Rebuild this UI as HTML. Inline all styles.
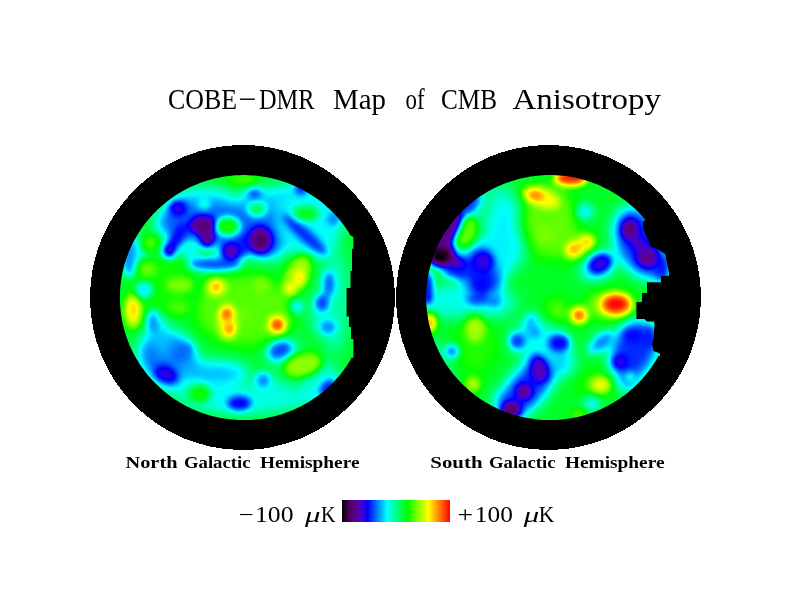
<!DOCTYPE html>
<html lang="en">
<head>
<meta charset="utf-8">
<title>COBE-DMR Map of CMB Anisotropy</title>
<style>
html,body{margin:0;padding:0;background:#fff;}
body{width:792px;height:612px;overflow:hidden;position:relative;font-family:"Liberation Serif",serif;}
svg{position:absolute;left:0;top:0;display:block;}
text{font-family:"Liberation Serif",serif;fill:#000;}
.t{font-size:29.5px;}
.l{font-size:16px;font-weight:bold;}
.c{font-size:22.5px;}
</style>
</head>
<body>
<svg width="792" height="612" viewBox="0 0 792 612">
<defs>
<filter id="b1" x="0" y="0" width="792" height="612" filterUnits="userSpaceOnUse" color-interpolation-filters="sRGB"><feGaussianBlur stdDeviation="7"/></filter>
<filter id="b2" x="0" y="0" width="792" height="612" filterUnits="userSpaceOnUse" color-interpolation-filters="sRGB"><feGaussianBlur stdDeviation="3.6"/></filter>
<filter id="heat" x="0" y="0" width="792" height="612" filterUnits="userSpaceOnUse" color-interpolation-filters="sRGB">
<feComponentTransfer>
<feFuncR type="table" tableValues="0.000 0.095 0.187 0.257 0.313 0.337 0.361 0.341 0.321 0.267 0.196 0.098 0.000 0.000 0.000 0.000 0.000 0.000 0.000 0.000 0.000 0.000 0.000 0.000 0.000 0.000 0.000 0.000 0.000 0.000 0.000 0.056 0.167 0.279 0.390 0.502 0.602 0.701 0.801 0.900 1.000 1.000 1.000 1.000 1.000 1.000 1.000 1.000 1.000 1.000 1.000"/>
<feFuncG type="table" tableValues="0.000 0.000 0.000 0.000 0.000 0.000 0.000 0.000 0.000 0.000 0.000 0.000 0.000 0.113 0.227 0.340 0.453 0.566 0.679 0.792 0.904 1.000 1.000 1.000 1.000 1.000 1.000 1.000 1.000 1.000 1.000 1.000 1.000 1.000 1.000 1.000 1.000 1.000 1.000 1.000 1.000 0.900 0.801 0.701 0.602 0.502 0.402 0.301 0.201 0.100 0.000"/>
<feFuncB type="table" tableValues="0.000 0.106 0.212 0.318 0.413 0.481 0.549 0.632 0.716 0.807 0.902 0.951 1.000 1.000 1.000 1.000 1.000 1.000 1.000 1.000 1.000 0.984 0.877 0.770 0.663 0.556 0.452 0.351 0.251 0.151 0.050 0.000 0.000 0.000 0.000 0.000 0.000 0.000 0.000 0.000 0.000 0.000 0.000 0.000 0.000 0.000 0.000 0.000 0.000 0.000 0.000"/>
<feFuncA type="linear" slope="0" intercept="1"/>
</feComponentTransfer>
</filter>
<linearGradient id="bar" x1="0" y1="0" x2="1" y2="0"><stop offset="0.0%" stop-color="rgb(0,0,0)"/><stop offset="3.7%" stop-color="rgb(45,0,50)"/><stop offset="7.4%" stop-color="rgb(78,0,100)"/><stop offset="12.0%" stop-color="rgb(92,0,140)"/><stop offset="16.7%" stop-color="rgb(80,0,190)"/><stop offset="20.0%" stop-color="rgb(50,0,230)"/><stop offset="24.0%" stop-color="rgb(0,0,255)"/><stop offset="33.0%" stop-color="rgb(0,130,255)"/><stop offset="41.7%" stop-color="rgb(0,255,255)"/><stop offset="51.0%" stop-color="rgb(0,255,128)"/><stop offset="61.0%" stop-color="rgb(0,255,0)"/><stop offset="70.0%" stop-color="rgb(128,255,0)"/><stop offset="80.0%" stop-color="rgb(255,255,0)"/><stop offset="90.0%" stop-color="rgb(255,128,0)"/><stop offset="100.0%" stop-color="rgb(255,0,0)"/></linearGradient>
<clipPath id="clipN"><path d="M351.7 357.7 L350.1 360.5 L348.4 363.2 L346.6 365.9 L344.8 368.6 L342.9 371.2 L340.9 373.7 L338.9 376.2 L336.7 378.6 L334.6 381.0 L332.3 383.3 L330.0 385.6 L327.7 387.8 L325.2 389.9 L322.8 392.0 L320.3 394.0 L317.7 395.9 L315.0 397.8 L312.4 399.6 L309.6 401.4 L306.9 403.0 L304.1 404.6 L301.2 406.2 L298.3 407.6 L295.4 409.0 L292.4 410.3 L289.4 411.5 L286.4 412.6 L283.3 413.7 L280.2 414.7 L277.1 415.6 L274.0 416.4 L270.8 417.1 L267.7 417.8 L264.5 418.4 L261.3 418.9 L258.0 419.3 L254.8 419.6 L251.6 419.9 L248.3 420.0 L245.1 420.1 L241.9 420.1 L238.6 420.0 L235.4 419.8 L232.1 419.6 L228.9 419.2 L225.7 418.8 L222.5 418.3 L219.3 417.7 L216.1 417.0 L213.0 416.3 L209.9 415.4 L206.7 414.5 L203.7 413.5 L200.6 412.4 L197.6 411.3 L194.6 410.0 L191.6 408.7 L188.7 407.3 L185.8 405.9 L183.0 404.3 L180.2 402.7 L177.4 401.0 L174.7 399.3 L172.0 397.5 L169.4 395.6 L166.8 393.6 L164.3 391.6 L161.9 389.5 L159.5 387.3 L157.1 385.1 L154.8 382.8 L152.6 380.5 L150.4 378.1 L148.3 375.7 L146.3 373.2 L144.3 370.6 L142.4 368.0 L140.6 365.4 L138.8 362.7 L137.2 360.0 L135.5 357.2 L134.0 354.4 L132.5 351.5 L131.1 348.6 L129.8 345.7 L128.6 342.7 L127.4 339.7 L126.4 336.7 L125.4 333.6 L124.5 330.5 L123.6 327.4 L122.9 324.3 L122.2 321.2 L121.6 318.0 L121.1 314.9 L120.7 311.7 L120.4 308.5 L120.1 305.3 L120.0 302.1 L119.9 298.9 L119.9 295.7 L120.0 292.5 L120.2 289.3 L120.4 286.1 L120.8 282.9 L121.2 279.7 L121.7 276.5 L122.3 273.4 L123.0 270.3 L123.8 267.1 L124.6 264.0 L125.6 261.0 L126.6 257.9 L127.7 254.9 L128.8 251.9 L130.1 248.9 L131.4 246.0 L132.8 243.1 L134.3 240.3 L135.9 237.5 L137.5 234.7 L139.2 232.0 L141.0 229.3 L142.8 226.6 L144.7 224.0 L146.7 221.5 L148.7 219.0 L150.9 216.6 L153.0 214.2 L155.3 211.9 L157.6 209.6 L159.9 207.4 L162.4 205.3 L164.8 203.2 L167.3 201.2 L169.9 199.3 L172.6 197.4 L175.2 195.6 L178.0 193.8 L180.7 192.2 L183.5 190.6 L186.4 189.0 L189.3 187.6 L192.2 186.2 L195.2 184.9 L198.2 183.7 L201.2 182.6 L204.3 181.5 L207.4 180.5 L210.5 179.6 L213.6 178.8 L216.8 178.1 L219.9 177.4 L223.1 176.8 L226.3 176.3 L229.6 175.9 L232.8 175.6 L236.0 175.3 L239.3 175.2 L242.5 175.1 L245.7 175.1 L249.0 175.2 L252.2 175.4 L255.5 175.6 L258.7 176.0 L261.9 176.4 L265.1 176.9 L268.3 177.5 L271.5 178.2 L274.6 178.9 L277.7 179.8 L280.9 180.7 L283.9 181.7 L287.0 182.8 L290.0 183.9 L293.0 185.2 L296.0 186.5 L298.9 187.9 L301.8 189.3 L304.6 190.9 L307.4 192.5 L310.2 194.2 L312.9 195.9 L315.6 197.7 L318.2 199.6 L320.8 201.6 L323.3 203.6 L325.7 205.7 L328.1 207.9 L330.5 210.1 L332.8 212.4 L335.0 214.7 L337.2 217.1 L339.3 219.5 L341.3 222.0 L343.3 224.6 L345.2 227.2 L347.0 229.8 L348.8 232.5 L350.4 235.2 L353.4 237.0 L353.4 248.7 L352.0 248.7 L352.0 271.0 L350.5 271.0 L350.5 288.0 L346.6 288.0 L346.6 316.6 L349.0 316.6 L349.0 327.0 L351.0 327.0 L351.0 339.0 L353.4 339.0 L353.4 358.0 Z"/></clipPath>
<clipPath id="clipS"><path d="M658.5 355.9 L656.9 358.7 L655.3 361.4 L653.6 364.1 L651.8 366.8 L649.9 369.4 L648.0 372.0 L646.0 374.5 L643.9 377.0 L641.8 379.4 L639.6 381.8 L637.4 384.1 L635.0 386.3 L632.7 388.5 L630.2 390.6 L627.8 392.7 L625.2 394.7 L622.6 396.6 L620.0 398.4 L617.3 400.2 L614.6 401.9 L611.8 403.6 L609.0 405.2 L606.1 406.7 L603.2 408.1 L600.3 409.4 L597.3 410.7 L594.3 411.9 L591.3 413.0 L588.2 414.0 L585.1 415.0 L582.0 415.9 L578.9 416.7 L575.7 417.4 L572.5 418.0 L569.3 418.6 L566.1 419.0 L562.9 419.4 L559.7 419.7 L556.5 419.9 L553.3 420.1 L550.0 420.1 L546.8 420.1 L543.5 419.9 L540.3 419.7 L537.1 419.5 L533.9 419.1 L530.7 418.6 L527.5 418.1 L524.3 417.5 L521.2 416.8 L518.0 416.0 L514.9 415.1 L511.8 414.2 L508.7 413.1 L505.7 412.0 L502.7 410.9 L499.7 409.6 L496.8 408.3 L493.9 406.8 L491.0 405.4 L488.2 403.8 L485.4 402.2 L482.7 400.5 L480.0 398.7 L477.3 396.8 L474.7 394.9 L472.2 392.9 L469.7 390.9 L467.3 388.8 L464.9 386.6 L462.6 384.4 L460.3 382.1 L458.1 379.7 L456.0 377.3 L453.9 374.9 L451.9 372.3 L449.9 369.8 L448.1 367.2 L446.3 364.5 L444.5 361.8 L442.9 359.0 L441.3 356.2 L439.8 353.4 L438.3 350.5 L437.0 347.6 L435.7 344.7 L434.5 341.7 L433.4 338.7 L432.3 335.7 L431.4 332.6 L430.5 329.5 L429.7 326.4 L428.9 323.3 L428.3 320.1 L427.8 317.0 L427.3 313.8 L426.9 310.6 L426.6 307.4 L426.4 304.2 L426.2 301.0 L426.2 297.8 L426.2 294.6 L426.4 291.4 L426.6 288.2 L426.9 285.0 L427.2 281.8 L427.7 278.6 L428.2 275.5 L428.9 272.3 L429.6 269.2 L430.4 266.1 L431.2 263.0 L432.2 259.9 L433.2 256.9 L434.3 253.9 L435.5 250.9 L436.8 248.0 L438.1 245.1 L439.6 242.2 L441.1 239.3 L442.7 236.5 L444.3 233.8 L446.0 231.1 L447.8 228.4 L449.7 225.8 L451.6 223.2 L453.6 220.7 L455.7 218.2 L457.8 215.8 L460.0 213.4 L462.2 211.1 L464.6 208.9 L466.9 206.7 L469.4 204.6 L471.8 202.5 L474.4 200.5 L477.0 198.6 L479.6 196.8 L482.3 195.0 L485.0 193.3 L487.8 191.6 L490.6 190.0 L493.5 188.5 L496.4 187.1 L499.3 185.8 L502.3 184.5 L505.3 183.3 L508.3 182.2 L511.4 181.2 L514.5 180.2 L517.6 179.3 L520.7 178.5 L523.9 177.8 L527.1 177.2 L530.3 176.6 L533.5 176.2 L536.7 175.8 L539.9 175.5 L543.1 175.3 L546.3 175.1 L549.6 175.1 L552.8 175.1 L556.1 175.3 L559.3 175.5 L562.5 175.7 L565.7 176.1 L568.9 176.6 L572.1 177.1 L575.3 177.7 L578.4 178.4 L581.6 179.2 L584.7 180.1 L587.8 181.0 L590.9 182.1 L593.9 183.2 L596.9 184.3 L599.9 185.6 L602.8 186.9 L605.7 188.4 L608.6 189.8 L611.4 191.4 L614.2 193.0 L616.9 194.7 L619.6 196.5 L622.3 198.4 L624.9 200.3 L627.4 202.3 L629.9 204.3 L632.3 206.4 L634.7 208.6 L637.0 210.8 L639.3 213.1 L641.5 215.5 L643.6 217.9 L645.4 219.5 L643.0 222.0 L643.0 228.0 L644.5 232.5 L651.0 246.5 L659.0 250.0 L665.0 254.0 L669.0 272.0 L669.0 275.7 L661.0 275.7 L661.0 282.3 L647.0 282.3 L647.0 293.0 L642.0 293.0 L642.0 302.0 L636.4 302.0 L636.4 319.0 L644.5 319.0 L647.0 321.5 L654.4 321.5 L654.4 325.6 L653.5 338.7 L652.0 343.6 L653.5 351.0 L660.0 353.5 L660.0 356.0 Z"/></clipPath>
</defs>
<rect x="0" y="0" width="792" height="612" fill="#fff"/>
<circle cx="242.5" cy="297.5" r="152.5" fill="#000" shape-rendering="crispEdges"/>
<circle cx="548.5" cy="297.5" r="152.5" fill="#000" shape-rendering="crispEdges"/>
<g clip-path="url(#clipN)"><g filter="url(#heat)">
<rect x="100" y="150" width="290" height="295" fill="#949494"/>
<g filter="url(#b1)">
<ellipse cx="205" cy="222" rx="50" ry="24" fill="#4f4f4f"/>
<ellipse cx="235" cy="245" rx="20" ry="14" fill="#4f4f4f"/>
<ellipse cx="268" cy="228" rx="24" ry="32" fill="#4f4f4f"/>
<ellipse cx="265" cy="200" rx="30" ry="12" fill="#616161"/>
<ellipse cx="203" cy="195" rx="30" ry="8" fill="#666666"/>
<ellipse cx="287" cy="192" rx="14" ry="8" fill="#616161"/>
<ellipse cx="310" cy="222" rx="34" ry="36" fill="#6b6b6b"/>
<ellipse cx="168" cy="358" rx="32" ry="27" fill="#4f4f4f" transform="rotate(35 168 358)"/>
<ellipse cx="172" cy="389" rx="15" ry="6" fill="#666666" transform="rotate(30 172 389)"/>
<ellipse cx="160" cy="335" rx="10" ry="25" fill="#616161" transform="rotate(-15 160 335)"/>
<ellipse cx="210" cy="373" rx="40" ry="13" fill="#5e5e5e"/>
<ellipse cx="245" cy="400" rx="62" ry="14" fill="#6b6b6b"/>
<ellipse cx="270" cy="392" rx="25" ry="14" fill="#707070"/>
<ellipse cx="283" cy="352" rx="18" ry="12" fill="#6b6b6b" transform="rotate(-20 283 352)"/>
<ellipse cx="325" cy="315" rx="14" ry="22" fill="#6b6b6b"/>
<ellipse cx="132" cy="250" rx="8" ry="16" fill="#5c5c5c"/>
<ellipse cx="142" cy="292" rx="10" ry="7" fill="#666666"/>
<ellipse cx="322" cy="385" rx="22" ry="24" fill="#737373"/>
<ellipse cx="308" cy="396" rx="12" ry="10" fill="#6b6b6b"/>
<ellipse cx="335" cy="300" rx="16" ry="55" fill="#7a7a7a"/>
<ellipse cx="137" cy="255" rx="12" ry="18" fill="#6b6b6b"/>
<ellipse cx="160" cy="285" rx="30" ry="30" fill="#9e9e9e"/>
<ellipse cx="245" cy="310" rx="50" ry="36" fill="#ababab"/>
<ellipse cx="239" cy="178" rx="26" ry="6" fill="#9e9e9e"/>
</g>
<g filter="url(#b2)">
<ellipse cx="227.6" cy="226.3" rx="12" ry="9" fill="#a1a1a1"/>
<ellipse cx="306" cy="213.5" rx="13" ry="7" fill="#999999"/>
<ellipse cx="243" cy="180" rx="14" ry="5" fill="#a8a8a8"/>
<ellipse cx="257" cy="209" rx="9" ry="7" fill="#8c8c8c"/>
<ellipse cx="150" cy="243" rx="9" ry="9" fill="#a8a8a8"/>
<ellipse cx="147" cy="269" rx="9" ry="9" fill="#adadad"/>
<ellipse cx="180" cy="285" rx="14" ry="8" fill="#b2b2b2"/>
<ellipse cx="216" cy="287" rx="11" ry="10" fill="#c2c2c2"/>
<ellipse cx="216" cy="287" rx="4.5" ry="4.5" fill="#ebebeb"/>
<ellipse cx="133" cy="311" rx="10" ry="19" fill="#b8b8b8"/>
<ellipse cx="133" cy="310" rx="6" ry="12" fill="#d6d6d6"/>
<ellipse cx="227.6" cy="321.5" rx="10" ry="18" fill="#c7c7c7"/>
<ellipse cx="226.5" cy="314" rx="6" ry="6" fill="#f2f2f2"/>
<ellipse cx="229.7" cy="329" rx="5" ry="5.5" fill="#ebebeb"/>
<ellipse cx="277.2" cy="324.7" rx="10" ry="10" fill="#cccccc"/>
<ellipse cx="277.2" cy="324.7" rx="5.5" ry="5.5" fill="#ffffff"/>
<ellipse cx="297" cy="275" rx="12" ry="22" fill="#b8b8b8" transform="rotate(25 297 275)"/>
<ellipse cx="299.5" cy="278" rx="5" ry="8" fill="#d6d6d6"/>
<ellipse cx="289" cy="289" rx="5" ry="6" fill="#d6d6d6"/>
<ellipse cx="261" cy="285" rx="8" ry="8" fill="#b2b2b2"/>
<ellipse cx="303" cy="365" rx="20" ry="12" fill="#b5b5b5" transform="rotate(-15 303 365)"/>
<ellipse cx="200" cy="394" rx="11" ry="9" fill="#9e9e9e"/>
<ellipse cx="178.7" cy="307.7" rx="12" ry="8" fill="#a8a8a8"/>
<ellipse cx="244" cy="316" rx="9" ry="9" fill="#adadad"/>
<ellipse cx="177.7" cy="208.2" rx="9" ry="8" fill="#333333"/>
<ellipse cx="129" cy="256" rx="7" ry="22" fill="#575757"/>
<ellipse cx="144" cy="290" rx="9" ry="9" fill="#666666"/>
<ellipse cx="203" cy="225" rx="13" ry="9" fill="#1a1a1a"/>
<ellipse cx="207" cy="236" rx="7" ry="11" fill="#1a1a1a"/>
<ellipse cx="177" cy="238" rx="7" ry="18" fill="#3d3d3d" transform="rotate(30 177 238)"/>
<ellipse cx="169.2" cy="250.7" rx="7" ry="8" fill="#2e2e2e"/>
<ellipse cx="230.8" cy="251.8" rx="9" ry="8.5" fill="#242424"/>
<ellipse cx="215" cy="264" rx="27" ry="7" fill="#4a4a4a"/>
<ellipse cx="190" cy="252" rx="10" ry="7" fill="#6b6b6b"/>
<ellipse cx="242" cy="245" rx="6" ry="12" fill="#424242"/>
<ellipse cx="260.2" cy="240.1" rx="14" ry="15" fill="#383838"/>
<ellipse cx="260.2" cy="240.1" rx="9" ry="11" fill="#141414"/>
<ellipse cx="305" cy="235" rx="30" ry="6" fill="#424242" transform="rotate(42 305 235)"/>
<ellipse cx="301" cy="189" rx="7" ry="6" fill="#3d3d3d"/>
<ellipse cx="333.5" cy="219" rx="6" ry="6" fill="#4f4f4f"/>
<ellipse cx="254.5" cy="194" rx="7" ry="5.5" fill="#474747"/>
<ellipse cx="329" cy="284" rx="6" ry="13" fill="#4c4c4c"/>
<ellipse cx="166" cy="374.6" rx="12" ry="8" fill="#333333" transform="rotate(20 166 374.6)"/>
<ellipse cx="186.2" cy="349.2" rx="6" ry="6" fill="#4f4f4f"/>
<ellipse cx="153" cy="322" rx="5" ry="12" fill="#545454"/>
<ellipse cx="239.3" cy="403.3" rx="12" ry="7" fill="#383838"/>
<ellipse cx="280" cy="350.2" rx="12" ry="8" fill="#4a4a4a" transform="rotate(-20 280 350.2)"/>
<ellipse cx="263" cy="380" rx="8" ry="8" fill="#545454"/>
<ellipse cx="327" cy="387.4" rx="5" ry="10" fill="#383838" transform="rotate(40 327 387.4)"/>
<ellipse cx="328" cy="327" rx="8.5" ry="7.5" fill="#545454"/>
<ellipse cx="322" cy="303" rx="7.5" ry="9" fill="#474747"/>
<ellipse cx="297.3" cy="306.7" rx="7" ry="7" fill="#666666"/>
<ellipse cx="204" cy="204" rx="5.5" ry="5" fill="#787878"/>
</g>
</g></g>
<g clip-path="url(#clipS)"><g filter="url(#heat)">
<rect x="405" y="150" width="290" height="295" fill="#949494"/>
<g filter="url(#b1)">
<ellipse cx="483" cy="274" rx="21" ry="32" fill="#404040"/>
<ellipse cx="452" cy="261" rx="13" ry="7" fill="#242424" transform="rotate(10 452 261)"/>
<ellipse cx="457" cy="222" rx="38" ry="9" fill="#3d3d3d" transform="rotate(-52 457 222)"/>
<ellipse cx="505" cy="235" rx="22" ry="40" fill="#696969"/>
<ellipse cx="500" cy="195" rx="14" ry="10" fill="#737373"/>
<ellipse cx="470" cy="300" rx="50" ry="9" fill="#6b6b6b"/>
<ellipse cx="634" cy="350" rx="23" ry="32" fill="#454545" transform="rotate(20 634 350)"/>
<ellipse cx="640" cy="243" rx="24" ry="38" fill="#454545" transform="rotate(-25 640 243)"/>
<ellipse cx="660" cy="268" rx="10" ry="14" fill="#424242"/>
<ellipse cx="598" cy="266" rx="18" ry="12" fill="#545454" transform="rotate(-25 598 266)"/>
<ellipse cx="528" cy="387" rx="19" ry="42" fill="#454545" transform="rotate(40 528 387)"/>
<ellipse cx="440" cy="360" rx="6" ry="25" fill="#737373" transform="rotate(-25 440 360)"/>
<ellipse cx="470" cy="311" rx="45" ry="8" fill="#707070"/>
<ellipse cx="628" cy="383" rx="10" ry="8" fill="#474747"/>
<ellipse cx="600" cy="342" rx="12" ry="5" fill="#616161" transform="rotate(-40 600 342)"/>
<ellipse cx="557" cy="312" rx="12" ry="14" fill="#adadad"/>
<ellipse cx="552" cy="362" rx="9" ry="16" fill="#575757" transform="rotate(25 552 362)"/>
<ellipse cx="556" cy="355" rx="16" ry="16" fill="#5c5c5c"/>
<ellipse cx="561" cy="363" rx="14" ry="14" fill="#616161"/>
<ellipse cx="504" cy="400" rx="10" ry="10" fill="#454545"/>
<ellipse cx="538" cy="340" rx="28" ry="20" fill="#6e6e6e"/>
<ellipse cx="532" cy="325" rx="6" ry="12" fill="#616161"/>
<ellipse cx="548" cy="220" rx="28" ry="38" fill="#adadad"/>
<ellipse cx="572" cy="246" rx="22" ry="16" fill="#adadad"/>
<ellipse cx="610" cy="305" rx="24" ry="14" fill="#b8b8b8"/>
<ellipse cx="475" cy="345" rx="22" ry="30" fill="#a1a1a1"/>
<ellipse cx="448" cy="295" rx="16" ry="12" fill="#6e6e6e"/>
<ellipse cx="595" cy="385" rx="20" ry="14" fill="#a3a3a3"/>
<ellipse cx="592" cy="404" rx="10" ry="7" fill="#737373"/>
</g>
<g filter="url(#b2)">
<ellipse cx="541" cy="197.5" rx="20" ry="9" fill="#cccccc" transform="rotate(20 541 197.5)"/>
<ellipse cx="535.8" cy="195.5" rx="7.5" ry="4.5" fill="#ebebeb"/>
<ellipse cx="570.5" cy="179" rx="17" ry="8" fill="#d9d9d9"/>
<ellipse cx="572" cy="177.5" rx="16" ry="5.5" fill="#ffffff"/>
<ellipse cx="466.7" cy="231.6" rx="10" ry="16" fill="#adadad" transform="rotate(20 466.7 231.6)"/>
<ellipse cx="545" cy="234" rx="8" ry="8" fill="#b2b2b2"/>
<ellipse cx="580" cy="246" rx="13" ry="8" fill="#c2c2c2" transform="rotate(-30 580 246)"/>
<ellipse cx="573.7" cy="249.6" rx="8" ry="8" fill="#dbdbdb"/>
<ellipse cx="587.5" cy="241.2" rx="7" ry="7" fill="#d6d6d6"/>
<ellipse cx="616" cy="304.5" rx="17" ry="12" fill="#d6d6d6"/>
<ellipse cx="616" cy="304" rx="12" ry="8" fill="#ffffff"/>
<ellipse cx="579" cy="315.2" rx="10" ry="10" fill="#c7c7c7"/>
<ellipse cx="579" cy="315.2" rx="6" ry="6" fill="#f0f0f0"/>
<ellipse cx="430.6" cy="322.6" rx="6" ry="10" fill="#c7c7c7"/>
<ellipse cx="430" cy="322.6" rx="4" ry="8" fill="#ebebeb"/>
<ellipse cx="475.2" cy="329" rx="10" ry="13" fill="#bababa"/>
<ellipse cx="473" cy="384.2" rx="8" ry="8" fill="#bdbdbd"/>
<ellipse cx="600.5" cy="385" rx="10" ry="8" fill="#c9c9c9"/>
<ellipse cx="579" cy="414" rx="8" ry="5" fill="#adadad"/>
<ellipse cx="630" cy="377" rx="4.5" ry="4.5" fill="#808080"/>
<ellipse cx="441" cy="254" rx="14" ry="13" fill="#141414"/>
<ellipse cx="440" cy="255" rx="9.5" ry="9.5" fill="#000000"/>
<ellipse cx="457" cy="263" rx="8" ry="5" fill="#212121" transform="rotate(15 457 263)"/>
<ellipse cx="450" cy="232" rx="6.5" ry="22" fill="#1a1a1a" transform="rotate(32 450 232)"/>
<ellipse cx="470" cy="203" rx="4" ry="12" fill="#404040" transform="rotate(52 470 203)"/>
<ellipse cx="483.7" cy="261.3" rx="10" ry="10" fill="#333333"/>
<ellipse cx="481.6" cy="286" rx="9" ry="8" fill="#3d3d3d"/>
<ellipse cx="478" cy="299" rx="12" ry="6" fill="#474747"/>
<ellipse cx="494" cy="301" rx="7" ry="6" fill="#525252"/>
<ellipse cx="462.5" cy="276" rx="8" ry="6" fill="#575757"/>
<ellipse cx="428" cy="287" rx="5" ry="17" fill="#333333"/>
<ellipse cx="427.4" cy="300.3" rx="4" ry="4" fill="#1f1f1f"/>
<ellipse cx="462" cy="272" rx="20" ry="6" fill="#424242"/>
<ellipse cx="630" cy="230" rx="8" ry="11" fill="#1f1f1f"/>
<ellipse cx="630" cy="229.5" rx="4.5" ry="5" fill="#0a0a0a"/>
<ellipse cx="647" cy="257" rx="10" ry="10" fill="#1f1f1f"/>
<ellipse cx="662" cy="268" rx="6" ry="12" fill="#404040"/>
<ellipse cx="638" cy="243" rx="6" ry="14" fill="#292929" transform="rotate(-35 638 243)"/>
<ellipse cx="600.2" cy="263.5" rx="12" ry="9" fill="#333333" transform="rotate(-30 600.2 263.5)"/>
<ellipse cx="585.4" cy="211.4" rx="9" ry="8" fill="#6b6b6b"/>
<ellipse cx="452" cy="351.3" rx="7" ry="7" fill="#4f4f4f"/>
<ellipse cx="517.2" cy="341" rx="8" ry="8" fill="#454545"/>
<ellipse cx="537" cy="360.5" rx="7" ry="6" fill="#383838"/>
<ellipse cx="535" cy="332.7" rx="5" ry="5" fill="#545454"/>
<ellipse cx="531" cy="325" rx="5" ry="12" fill="#5c5c5c"/>
<ellipse cx="539.5" cy="370.5" rx="9" ry="12" fill="#292929"/>
<ellipse cx="524" cy="391.6" rx="7.5" ry="7.5" fill="#1c1c1c"/>
<ellipse cx="511.3" cy="409.7" rx="9.5" ry="7.5" fill="#121212"/>
<ellipse cx="619.3" cy="362" rx="7" ry="7" fill="#303030"/>
<ellipse cx="632" cy="335.4" rx="9" ry="7" fill="#3d3d3d"/>
<ellipse cx="649" cy="338" rx="6" ry="12" fill="#404040"/>
<ellipse cx="559" cy="343" rx="11" ry="9" fill="#3b3b3b"/>
<ellipse cx="602" cy="342" rx="14" ry="7" fill="#545454" transform="rotate(-40 602 342)"/>
<ellipse cx="591.7" cy="403.3" rx="7" ry="6" fill="#6b6b6b"/>
<ellipse cx="545" cy="374.6" rx="4" ry="5" fill="#262626"/>
<ellipse cx="606.6" cy="335.4" rx="4.5" ry="4.5" fill="#5c5c5c"/>
<ellipse cx="592.8" cy="349.2" rx="5" ry="5" fill="#616161"/>
</g>
</g></g>
<rect x="342" y="500" width="108" height="22" fill="url(#bar)"/>
<g class="t">
<text x="168" y="108.5" textLength="69" lengthAdjust="spacingAndGlyphs">COBE</text>
<text x="238.5" y="108.5" textLength="18" lengthAdjust="spacingAndGlyphs">−</text>
<text x="259" y="108.5" textLength="55.5" lengthAdjust="spacingAndGlyphs">DMR</text>
<text x="333" y="108.5" textLength="53" lengthAdjust="spacingAndGlyphs">Map</text>
<text x="405.5" y="108.5" textLength="19" lengthAdjust="spacingAndGlyphs">of</text>
<text x="441" y="108.5" textLength="56" lengthAdjust="spacingAndGlyphs">CMB</text>
<text x="512.5" y="108.5" textLength="148.5" lengthAdjust="spacingAndGlyphs">Anisotropy</text>
</g>
<g class="l">
<text x="125.5" y="467.9" textLength="52" lengthAdjust="spacingAndGlyphs">North</text>
<text x="184" y="467.9" textLength="66.5" lengthAdjust="spacingAndGlyphs">Galactic</text>
<text x="260" y="467.9" textLength="99.5" lengthAdjust="spacingAndGlyphs">Hemisphere</text>
<text x="430.3" y="467.9" textLength="52.2" lengthAdjust="spacingAndGlyphs">South</text>
<text x="489" y="467.9" textLength="66.5" lengthAdjust="spacingAndGlyphs">Galactic</text>
<text x="565" y="467.9" textLength="99.5" lengthAdjust="spacingAndGlyphs">Hemisphere</text>
</g>
<g class="c">
<text x="238.8" y="522" textLength="15" lengthAdjust="spacingAndGlyphs">−</text>
<text x="255" y="522" textLength="38.5" lengthAdjust="spacingAndGlyphs">100</text>
<text x="305" y="522" textLength="15.5" lengthAdjust="spacingAndGlyphs" font-style="italic" font-size="20">μ</text>
<text x="321" y="522" textLength="14.5" lengthAdjust="spacingAndGlyphs">K</text>
<text x="457.6" y="522" textLength="15.5" lengthAdjust="spacingAndGlyphs">+</text>
<text x="474.8" y="522" textLength="38" lengthAdjust="spacingAndGlyphs">100</text>
<text x="523.8" y="522" textLength="15.5" lengthAdjust="spacingAndGlyphs" font-style="italic" font-size="20">μ</text>
<text x="538.7" y="522" textLength="15.5" lengthAdjust="spacingAndGlyphs">K</text>
</g>
</svg>
</body>
</html>
